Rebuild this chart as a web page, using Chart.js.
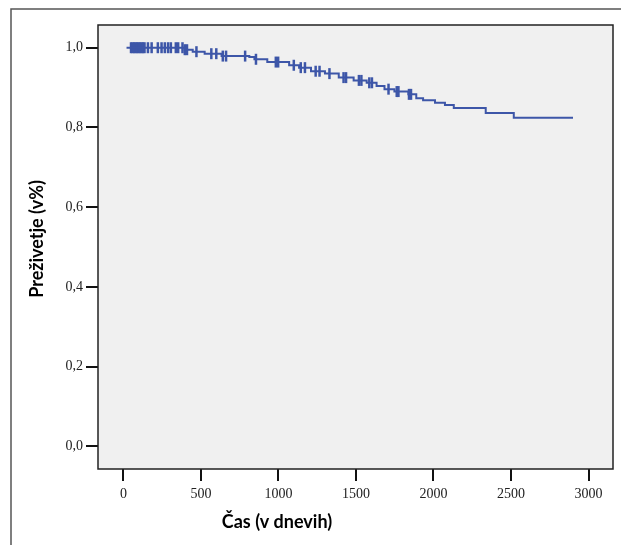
<!DOCTYPE html>
<html>
<head>
<meta charset="utf-8">
<script src="https://cdn.jsdelivr.net/npm/chart.js@4.4.0/dist/chart.umd.min.js"></script>
<style>
  html, body { margin: 0; padding: 0; background: #fff; }
  #wrap { width: 621px; height: 545px; position: relative; }
</style>
</head>
<body>
<div id="wrap"><canvas id="km" width="621" height="545"></canvas></div>
<script>
// podatki krivulje preživetja (odčitani s slike)
const eventDays = [20, 396, 447, 524, 633, 812, 845, 928, 1069, 1133, 1210, 1300, 1389, 1485, 1569, 1633, 1684, 1748, 1838, 1889, 1933, 2010, 2074, 2131, 2337, 2518, 2900];
const survival  = [1.0, 0.995, 0.99, 0.985, 0.979, 0.977, 0.971, 0.964, 0.956, 0.95, 0.941, 0.935, 0.925, 0.918, 0.912, 0.904, 0.896, 0.89, 0.883, 0.873, 0.868, 0.862, 0.856, 0.849, 0.836, 0.824, 0.824];

// cenzurirani primeri (dnevi)
const censoredDays = [49, 59, 69, 78, 88, 97, 107, 117, 126, 136, 158, 182, 222, 246, 267, 288, 306, 338, 353, 381, 396, 410, 471, 567, 599, 641, 662, 785, 855, 983, 998, 1099, 1144, 1171, 1240, 1265, 1329, 1420, 1436, 1519, 1535, 1586, 1603, 1710, 1763, 1774, 1842, 1855];

const xTicks = [0, 500, 1000, 1500, 2000, 2500, 3000];
const yTicks = [0.0, 0.2, 0.4, 0.6, 0.8, 1.0];

const lineColor = '#3d56a8';

// vrednost krivulje ob danem času
function survivalAt(t) {
    let s = survival[0];
    for (let i = 0; i < eventDays.length; i++) {
        if (eventDays[i] <= t) s = survival[i];
    }
    return s;
}

// okvir in naslovi osi
const framePlugin = {
    id: 'frame',
    beforeDraw(chart) {
        const ctx = chart.ctx;
        const a = chart.chartArea;
        ctx.save();
        ctx.fillStyle = '#f0f0f0';
        ctx.fillRect(a.left, a.top, a.right - a.left, a.bottom - a.top);
        ctx.strokeStyle = '#555';
        ctx.lineWidth = 1.5;
        ctx.beginPath();
        ctx.moveTo(11, 545);
        ctx.lineTo(11, 9);
        ctx.lineTo(621, 9);
        ctx.stroke();
        ctx.restore();
    },
    afterDraw(chart) {
        const ctx = chart.ctx;
        const a = chart.chartArea;
        ctx.save();
        ctx.strokeStyle = '#222';
        ctx.lineWidth = 1.5;
        ctx.strokeRect(a.left, a.top, a.right - a.left, a.bottom - a.top);
        ctx.fillStyle = '#000';
        ctx.font = 'bold 18px Lato, "DejaVu Sans", sans-serif';
        ctx.textAlign = 'center';
        ctx.textBaseline = 'middle';
        ctx.fillText('Čas (v dnevih)', 277, 522);
        ctx.translate(37, 239);
        ctx.rotate(-Math.PI / 2);
        ctx.fillText('Preživetje (v%)', 0, 0);
        ctx.restore();
    }
};

const ctx = document.getElementById('km').getContext('2d');
new Chart(ctx, {
    type: 'scatter',
    data: {
        datasets: [
            {
                label: 'Preživetje',
                data: eventDays.map((d, i) => ({ x: d, y: survival[i] })),
                showLine: true,
                stepped: true,
                borderColor: lineColor,
                borderWidth: 2,
                pointRadius: 0,
                fill: false
            },
            {
                label: 'Cenzurirani',
                data: censoredDays.map(d => ({ x: d, y: survivalAt(d) })),
                showLine: false,
                pointStyle: 'line',
                rotation: 90,
                pointRadius: 5.5,
                borderColor: lineColor,
                borderWidth: 2.5
            }
        ]
    },
    options: {
        responsive: false,
        animation: false,
        devicePixelRatio: 1,
        layout: { padding: { left: 0, right: 5, top: 25, bottom: 0 } },
        plugins: {
            legend: { display: false },
            tooltip: { enabled: false }
        },
        scales: {
            x: {
                type: 'linear',
                min: -164,
                max: 3158,
                afterFit(scale) { scale.height = 76; },
                afterBuildTicks(scale) { scale.ticks = xTicks.map(v => ({ value: v })); },
                border: { display: false },
                grid: { drawOnChartArea: false, drawTicks: true, tickLength: 12, color: '#111', lineWidth: 2 },
                ticks: {
                    padding: 5,
                    color: '#222',
                    font: { family: '"Liberation Serif", "Times New Roman", serif', size: 14 },
                    callback: v => String(v)
                }
            },
            y: {
                type: 'linear',
                min: -0.057,
                max: 1.057,
                afterFit(scale) { scale.width = 98; },
                afterBuildTicks(scale) { scale.ticks = yTicks.map(v => ({ value: v })); },
                border: { display: false },
                grid: { drawOnChartArea: false, drawTicks: true, tickLength: 12, color: '#111', lineWidth: 2 },
                ticks: {
                    padding: 3,
                    color: '#222',
                    font: { family: '"Liberation Serif", "Times New Roman", serif', size: 14 },
                    callback: v => v.toFixed(1).replace('.', ',')
                }
            }
        }
    },
    plugins: [framePlugin]
});
</script>
</body>
</html>
